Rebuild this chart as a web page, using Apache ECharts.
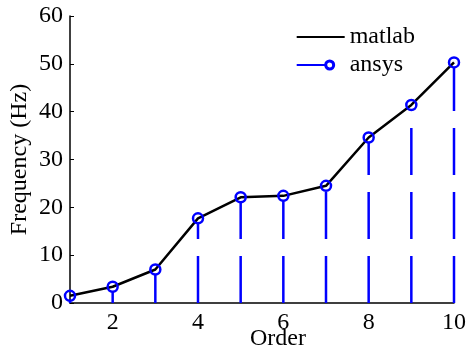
<!DOCTYPE html>
<html>
<head>
<meta charset="utf-8">
<script src="https://cdn.jsdelivr.net/npm/echarts@6/dist/echarts.min.js"></script>
<style>html,body{margin:0;padding:0;background:#fff}#c{width:466px;height:352px}</style>
</head>
<body>
<div id="c"></div>
<script>
const orders = [1, 2, 3, 4, 5, 6, 7, 8, 9, 10];
const matlabValues = [1.5, 3.4, 7.0, 17.7, 22.1, 22.4, 24.5, 34.6, 41.4, 50.3];
const ansysValues = [1.5, 3.4, 7.0, 17.7, 22.1, 22.4, 24.5, 34.6, 41.4, 50.3];
const xTicks = [2, 4, 6, 8, 10];

const FONT = 'Liberation Serif';
const BLUE = '#0000ff';

const chart = echarts.init(document.getElementById('c'), null, {renderer: 'canvas'});

const ringIcon = 'path://M0,5.1 L30,5.1 L30,6.9 L0,6.9 Z M33,0.5 A5.5,5.5 0 1 1 32.99,0.5 Z M33,3.5 A2.5,2.5 0 1 0 33.01,3.5 Z M48,6 L48,6.01 L47.99,6 Z';

chart.setOption({
  animation: false,
  backgroundColor: '#fff',
  grid: {left: 70, right: 12, top: 16, bottom: 49, outerBoundsMode: 'none', containLabel: false},
  legend: {
    right: 46, top: 20,
    orient: 'vertical',
    itemGap: 4,
    itemWidth: 48, itemHeight: 12,
    textStyle: {fontFamily: FONT, fontSize: 24, color: '#000'},
    data: [
      {name: 'matlab', icon: 'path://M0,5.1 L48,5.1 L48,6.9 L0,6.9 Z', itemStyle: {color: '#000'}},
      {name: 'ansys', icon: ringIcon, itemStyle: {color: BLUE}}
    ]
  },
  xAxis: {
    type: 'value', min: 1, max: 10,
    name: 'Order', nameLocation: 'middle', nameGap: 24, nameMoveOverlap: false,
    nameTextStyle: {fontFamily: FONT, fontSize: 24, color: '#000', padding: [0, 0, 0, 32]},
    axisLine: {lineStyle: {color: '#000', width: 1.5}},
    axisTick: {inside: true, length: 4, customValues: xTicks, lineStyle: {color: '#000'}},
    axisLabel: {customValues: xTicks, fontFamily: FONT, fontSize: 24, color: '#000', margin: 8},
    splitLine: {show: false}
  },
  yAxis: {
    type: 'value', min: 0, max: 60, interval: 10,
    name: 'Frequency (Hz)', nameLocation: 'middle', nameGap: 38, nameMoveOverlap: false,
    nameTextStyle: {fontFamily: FONT, fontSize: 24, color: '#000'},
    axisLine: {show: true, lineStyle: {color: '#000', width: 1.5}},
    axisTick: {show: true, inside: true, length: 4, lineStyle: {color: '#000'}},
    axisLabel: {fontFamily: FONT, fontSize: 24, color: '#000', margin: 7},
    splitLine: {show: false}
  },
  series: [
    {
      name: 'matlab', type: 'line',
      data: orders.map((o, i) => [o, matlabValues[i]]),
      showSymbol: false, symbol: 'none',
      lineStyle: {color: '#000', width: 2.5},
      itemStyle: {color: '#000'},
      z: 2
    },
    {
      name: 'ansys', type: 'custom',
      data: orders.map((o, i) => [o, ansysValues[i]]),
      itemStyle: {color: BLUE},
      renderItem: function (params, api) {
        const x = api.value(0), y = api.value(1);
        const p0 = api.coord([x, 0]);
        const p1 = api.coord([x, y]);
        return {
          type: 'group',
          children: [
            {type: 'line', shape: {x1: p0[0], y1: p0[1], x2: p1[0], y2: p1[1] + 5},
             style: {stroke: BLUE, lineWidth: 2.5, lineDash: [47, 17]}},
            {type: 'circle', shape: {cx: p1[0], cy: p1[1], r: 5},
             style: {stroke: BLUE, fill: 'none', lineWidth: 2.5}}
          ]
        };
      },
      z: 3
    }
  ]
});
</script>
</body>
</html>
